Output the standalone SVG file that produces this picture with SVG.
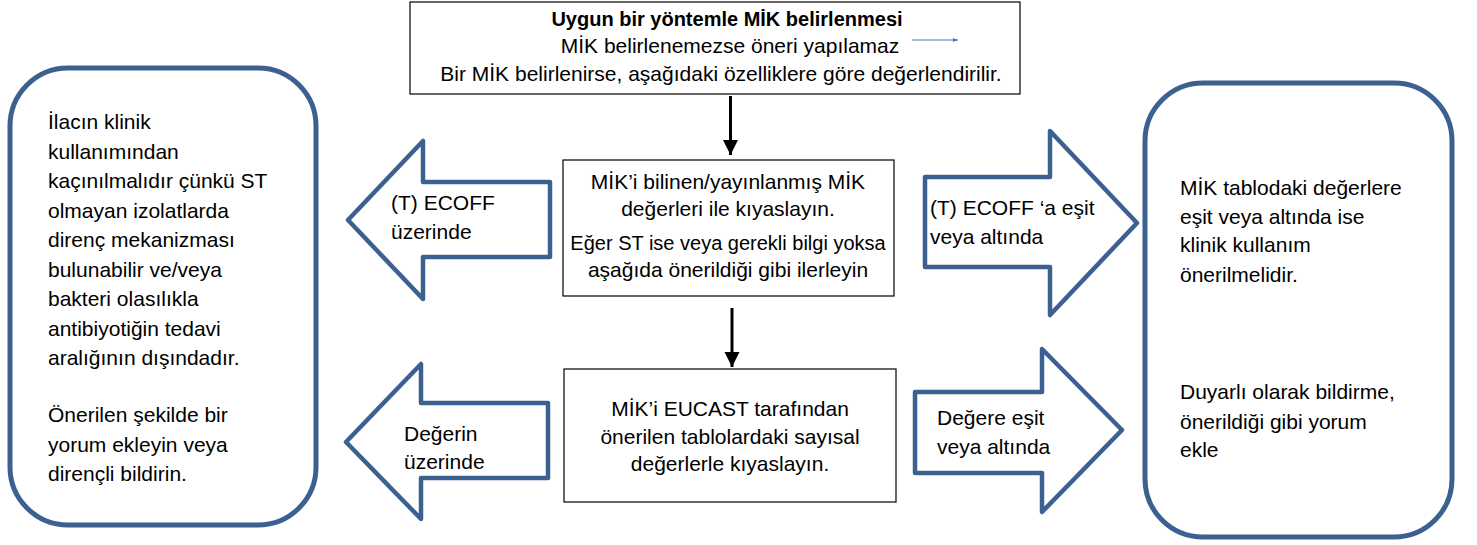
<svg xmlns="http://www.w3.org/2000/svg" width="1477" height="545" viewBox="0 0 1477 545">
<style>
text { font-family: "Liberation Sans", Arial, sans-serif; font-size: 21px; fill: #000; }
.b { font-weight: bold; font-size: 20px; }
.s { font-size: 20px; }
.c { text-anchor: middle; }
.box { fill: #fff; stroke: #000; stroke-width: 1.2; }
.blk { fill: #fff; stroke: #3C6190; stroke-width: 4.5; stroke-linejoin: round; }
.rnd { fill: #fff; stroke: #3C6190; stroke-width: 5; }
.conn { stroke: #000; stroke-width: 3; fill: none; }
</style>
<defs>
<marker id="ah" markerUnits="userSpaceOnUse" markerWidth="16" markerHeight="16" refX="15" refY="8" orient="auto">
<path d="M0,0.5 L15,8 L0,15.5 Z" fill="#000"/>
</marker>
<marker id="ahs" markerUnits="userSpaceOnUse" markerWidth="6" markerHeight="6" refX="5" refY="3" orient="auto">
<path d="M0,1 L5,3 L0,5 Z" fill="#4472C4"/>
</marker>
</defs>
<rect width="1477" height="545" fill="#fff"/>

<g id="top">
<rect class="box" x="410" y="2" width="610" height="92"/>
<text class="c b" x="727" y="26">Uygun bir yöntemle MİK belirlenmesi</text>
<text class="c" x="730" y="53">MİK belirlenemezse öneri yapılamaz</text>
<text class="c" x="721" y="81">Bir MİK belirlenirse, aşağıdaki özelliklere göre değerlendirilir.</text>
</g>

<g id="compare1">
<rect class="box" x="563" y="160" width="331" height="136"/>
<text class="c" x="728" y="189">MİK’i bilinen/yayınlanmış MİK</text>
<text class="c" x="728" y="216">değerleri ile kıyaslayın.</text>
<text class="c s" x="728" y="250">Eğer ST ise veya gerekli bilgi yoksa</text>
<text class="c" x="728" y="277">aşağıda önerildiği gibi ilerleyin</text>
</g>

<g id="compare2">
<rect class="box" x="564" y="369" width="332" height="133"/>
<text class="c" x="730" y="416">MİK’i EUCAST tarafından</text>
<text class="c" x="730" y="444">önerilen tablolardaki sayısal</text>
<text class="c" x="730" y="471">değerlerle kıyaslayın.</text>
</g>

<g id="arrowLeft1">
<path class="blk" d="M348,220 L423,141 L423,182 L550,182 L550,257 L423,257 L423,299 Z"/>
<text x="391" y="210">(T) ECOFF</text>
<text x="391" y="239">üzerinde</text>
</g>

<g id="arrowLeft2">
<path class="blk" d="M346,442 L421,364 L421,403 L548,403 L548,478 L421,478 L421,519 Z"/>
<text x="404" y="441">Değerin</text>
<text x="404" y="469">üzerinde</text>
</g>

<g id="arrowRight1">
<path class="blk" d="M925,177 L1050,177 L1050,131 L1137,223 L1050,315 L1050,267 L925,267 Z"/>
<text x="930" y="215">(T) ECOFF ‘a eşit</text>
<text x="930" y="244">veya altında</text>
</g>

<g id="arrowRight2">
<path class="blk" d="M915,392 L1042,392 L1042,349 L1122,430 L1042,512 L1042,473 L915,473 Z"/>
<text x="937" y="425">Değere eşit</text>
<text x="937" y="454">veya altında</text>
</g>

<g id="leftBox">
<rect class="rnd" x="10" y="68" width="306" height="457" rx="58" ry="58"/>
<text x="48" y="129">İlacın klinik</text>
<text x="48" y="158.5">kullanımından</text>
<text x="48" y="188">kaçınılmalıdır çünkü ST</text>
<text x="48" y="217.5">olmayan izolatlarda</text>
<text x="48" y="247">direnç mekanizması</text>
<text x="48" y="276.5">bulunabilir ve/veya</text>
<text x="48" y="306">bakteri olasılıkla</text>
<text x="48" y="335.5">antibiyotiğin tedavi</text>
<text x="48" y="365">aralığının dışındadır.</text>
<text x="48" y="422">Önerilen şekilde bir</text>
<text x="48" y="451.5">yorum ekleyin veya</text>
<text x="48" y="481">dirençli bildirin.</text>
</g>

<g id="rightBox">
<rect class="rnd" x="1145" y="83" width="307" height="454" rx="58" ry="58"/>
<text x="1180" y="195">MİK tablodaki değerlere</text>
<text x="1180" y="224">eşit veya altında ise</text>
<text x="1180" y="252">klinik kullanım</text>
<text x="1180" y="282">önerilmelidir.</text>
<text x="1180" y="399">Duyarlı olarak bildirme,</text>
<text x="1180" y="429">önerildiği gibi yorum</text>
<text x="1180" y="457">ekle</text>
</g>

<g id="connectors">
<line class="conn" x1="730.5" y1="96" x2="730.5" y2="155" marker-end="url(#ah)"/>
<line class="conn" x1="732" y1="308" x2="732" y2="367" marker-end="url(#ah)"/>
<line x1="912" y1="40" x2="958" y2="40" stroke="#4472C4" stroke-width="1" marker-end="url(#ahs)"/>
</g>
</svg>
